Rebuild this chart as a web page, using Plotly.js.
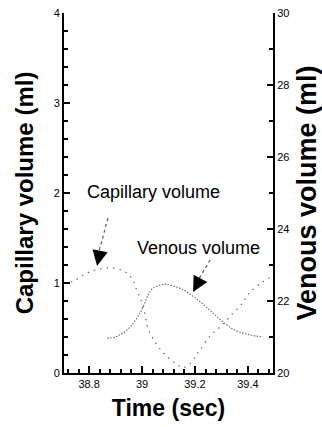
<!DOCTYPE html>
<html>
<head>
<meta charset="utf-8">
<script src="https://cdn.plot.ly/plotly-3.0.1.min.js"></script>
<style>
  html, body { margin: 0; padding: 0; background: #fff; }
  #chart { width: 322px; height: 427px; }
</style>
</head>
<body>
<div id="chart"></div>
<script>
// Capillary volume (ml), left axis
const capTime = [38.706, 38.74, 38.785, 38.83, 38.88, 38.925, 38.947, 38.966, 38.98, 38.996,
                 39.01, 39.02, 39.04, 39.07, 39.10, 39.13, 39.155, 39.18, 39.21, 39.26,
                 39.29, 39.33, 39.38, 39.40, 39.45, 39.49];
const capVolume = [1.00, 1.02, 1.10, 1.15, 1.17, 1.14, 1.10, 1.03, 0.92, 0.81,
                   0.67, 0.52, 0.39, 0.26, 0.17, 0.10, 0.06, 0.10, 0.22, 0.42,
                   0.50, 0.62, 0.78, 0.87, 1.00, 1.07];

// Venous volume (ml), right axis
const venTime = [38.868, 38.898, 38.928, 38.955, 38.981, 39.004, 39.023, 39.042, 39.068, 39.09,
                 39.106, 39.151, 39.211, 39.264, 39.306, 39.351, 39.408, 39.457];
const venVolume = [20.97, 21.00, 21.11, 21.28, 21.53, 21.83, 22.17, 22.36, 22.44, 22.47,
                   22.44, 22.33, 22.03, 21.69, 21.42, 21.19, 21.06, 21.00];

// Tick spacing for the three axes
const timeTickStart = 38.8, timeTickStep = 0.2, timeMinorStep = 0.04;
const capTickStep = 1, capMinorStep = 0.2;
const venTickStep = 2, venMinorStep = 1;

const font = 'Arial, "Liberation Sans", Helvetica, sans-serif';

const traces = [
  {
    x: capTime, y: capVolume, yaxis: 'y', type: 'scatter', mode: 'lines',
    line: { color: '#666', width: 1.2, dash: '1.5px,5px', shape: 'spline' },
    hoverinfo: 'skip'
  },
  {
    x: venTime, y: venVolume, yaxis: 'y2', type: 'scatter', mode: 'lines',
    line: { color: '#666', width: 1.1, dash: '1.5px,1.5px', shape: 'spline' },
    hoverinfo: 'skip'
  }
];

const layout = {
  width: 322, height: 427,
  margin: { l: 64, r: 49, t: 13, b: 54 },
  paper_bgcolor: '#fff', plot_bgcolor: '#fff',
  showlegend: false,
  font: { family: font, color: '#000', size: 11 },
  xaxis: {
    range: [38.705, 39.495],
    tickmode: 'linear', tick0: timeTickStart, dtick: timeTickStep,
    ticks: 'inside', ticklen: 7, tickwidth: 2, tickcolor: '#000',
    minor: { ticks: 'inside', ticklen: 4, tick0: timeTickStart, dtick: timeMinorStep, tickcolor: '#000' },
    showline: true, linecolor: '#000', linewidth: 2,
    showgrid: false, zeroline: false,
    tickfont: { size: 11, color: '#000' },
    title: { text: '<b>Time (sec)</b>', font: { size: 23 }, standoff: 11 }
  },
  yaxis: {
    range: [0, 4],
    tickmode: 'linear', tick0: 0, dtick: capTickStep,
    ticks: 'inside', ticklen: 6, tickwidth: 2, tickcolor: '#000',
    minor: { ticks: 'inside', ticklen: 4, tick0: 0, dtick: capMinorStep, tickcolor: '#000' },
    showline: true, linecolor: '#000', linewidth: 2,
    showgrid: false, zeroline: false,
    tickfont: { size: 11, color: '#000' },
    title: { text: '<b>Capillary volume (ml)</b>', font: { size: 24 }, standoff: 13 }
  },
  yaxis2: {
    range: [20, 30],
    overlaying: 'y', side: 'right', anchor: 'x',
    tickmode: 'linear', tick0: 20, dtick: venTickStep,
    ticks: 'inside', ticklen: 6, tickwidth: 2, tickcolor: '#000',
    minor: { ticks: 'inside', ticklen: 4, tick0: 20, dtick: venMinorStep, tickcolor: '#000' },
    showline: true, linecolor: '#000', linewidth: 2,
    showgrid: false, zeroline: false,
    tickfont: { size: 11, color: '#000' },
    title: { text: '<b>Venous volume (ml)</b>', font: { size: 27 }, standoff: 10 }
  },
  shapes: [
    // dotted leader lines for the two callouts
    { type: 'line', xref: 'x', yref: 'y', x0: 38.871, y0: 1.72, x1: 38.838, y1: 1.36,
      line: { color: '#555', width: 1.2, dash: 'dot' } },
    { type: 'line', xref: 'x', yref: 'y2', x0: 39.257, y0: 23.14, x1: 39.212, y1: 22.58,
      line: { color: '#555', width: 1.2, dash: 'dot' } }
  ],
  annotations: [
    { x: 39.043, y: 2.01, xref: 'x', yref: 'y', text: 'Capillary volume', showarrow: false,
      xanchor: 'center', yanchor: 'middle', font: { size: 18, color: '#000' } },
    { x: 39.215, y: 1.389, xref: 'x', yref: 'y', text: 'Venous volume', showarrow: false,
      xanchor: 'center', yanchor: 'middle', font: { size: 18, color: '#000' } },
    // arrowheads at the ends of the leader lines
    { x: 38.830, y: 1.19, xref: 'x', yref: 'y', text: '', showarrow: true,
      ax: 3, ay: -15, arrowhead: 2, arrowsize: 1.4, arrowwidth: 2.2, arrowcolor: '#000', standoff: 0 },
    { x: 39.193, y: 22.25, xref: 'x', yref: 'y2', text: '', showarrow: true,
      ax: 7, ay: -13, arrowhead: 2, arrowsize: 1.4, arrowwidth: 2.2, arrowcolor: '#000', standoff: 0 }
  ]
};

Plotly.newPlot('chart', traces, layout, { staticPlot: true, displayModeBar: false });
</script>
</body>
</html>
